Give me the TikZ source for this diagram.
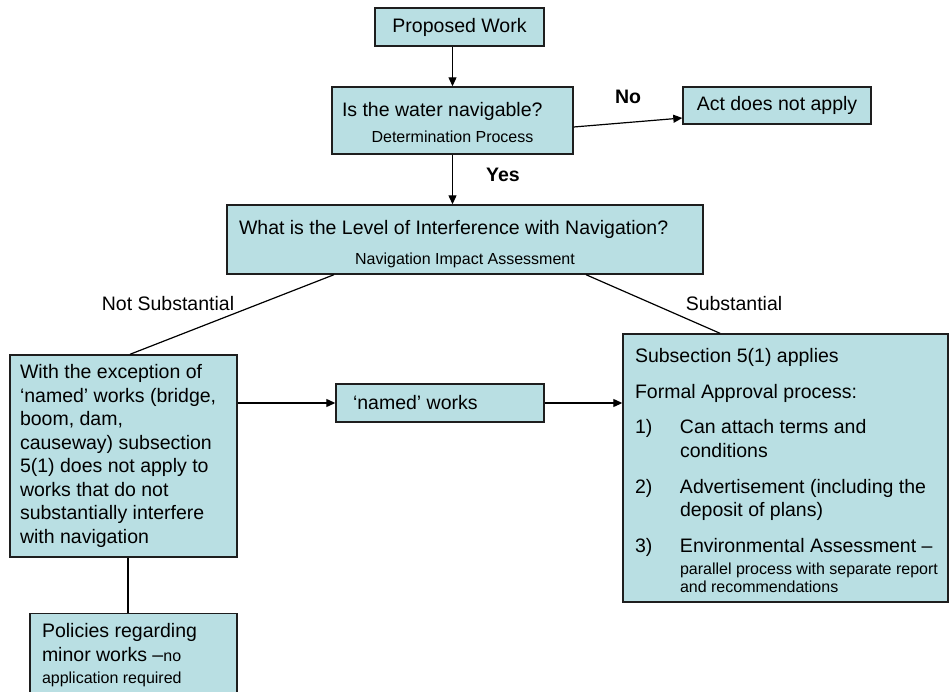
\documentclass[tikz,border=0pt]{standalone}
\usepackage{fontspec}
\setmainfont{Liberation Sans}
\usetikzlibrary{arrows.meta, positioning, calc}
\definecolor{boxteal}{RGB}{185, 223, 227}
\definecolor{edgegray}{RGB}{30, 30, 30}
\newcommand{\mainsize}{\fontsize{19.5}{23.5}\selectfont}
\newcommand{\minorsize}{\fontsize{16}{18}\selectfont}
\newcommand{\midline}[1]{\hspace*{\fill}\mbox{\minorsize #1}\hspace*{\fill}\null}

\begin{document}
\begin{tikzpicture}[
    x=1pt, y=-1pt,
    box/.style={draw=edgegray, line width=1.4pt, fill=boxteal, align=center, font=\mainsize, inner sep=0pt},
    textbox/.style={box, align=flush left},
    lbl/.style={font=\mainsize, inner sep=0pt},
    arr/.style={-{Triangle[length=9pt, width=8pt]}, line width=1.2pt},
    link/.style={line width=1.2pt}
]
    \useasboundingbox (0,0) rectangle (949,692);

    % Question chain
    \node[box, minimum width=169pt, minimum height=38pt] (prop) at (459.5,27) {Proposed Work};
    \node[textbox, text width=221pt, inner xsep=10pt, minimum height=67pt] (nav) at (452.5,120.5) {\rule{0pt}{18pt}Is the water navigable?\\[2pt]\midline{Determination Process}};
    \node[box, minimum width=188pt, minimum height=37pt] (act) at (777,105.5) {Act does not apply};
    \node[textbox, text width=452pt, inner xsep=12pt, minimum height=69pt] (level) at (465,239.5) {\rule{0pt}{23pt}What is the Level of Interference with Navigation?\\[6pt]\midline{Navigation Impact Assessment}};

    % Outcomes
    \node[textbox, text width=207pt, inner xsep=10pt, minimum height=202pt] (nosub) at (123.5,456) {With the exception of\\ ‘named’ works (bridge,\\ boom, dam,\\ causeway) subsection\\ 5(1) does not apply to\\ works that do not\\ substantially interfere\\ with navigation};
    \node[textbox, text width=174pt, inner xsep=17pt, minimum height=38pt] (named) at (440,403) {‘named’ works};
    \node[textbox, text width=301pt, inner xsep=12pt, minimum height=268pt] (sub) at (785.5,468) {\rule{0pt}{20pt}Subsection 5(1) applies\\[12pt]
        Formal Approval process:\\[12pt]
        \makebox[45pt][l]{1)}Can attach terms and\\
        \hspace*{45pt}conditions\\[12.5pt]
        \makebox[45pt][l]{2)}Advertisement (including the\\
        \hspace*{45pt}deposit of plans)\\[12.5pt]
        \makebox[45pt][l]{3)}Environmental Assessment –\\[-1.5pt]
        \hspace*{45pt}\mbox{\minorsize parallel process with separate report}\\[-5.5pt]
        \hspace*{45pt}\mbox{\minorsize and recommendations}};
    \node[textbox, text width=183pt, inner xsep=12pt, minimum height=83pt, anchor=north] (pol) at (133.5,613) {Policies regarding\\ minor works –{\minorsize no}\\[-1.5pt] \mbox{\minorsize application required}};

    % Labels
    \node[lbl, font=\mainsize\bfseries] (no) at (628,97) {No};
    \node[lbl, font=\mainsize\bfseries] (yes) at (503,175) {Yes};
    \node[lbl] (nslbl) at (168,304) {Not Substantial};
    \node[lbl] (slbl) at (734,304) {Substantial};

    % Connectors
    \draw[arr] (prop.south -| nav.north) -- (nav.north);
    \draw[arr] ([yshift=-6.5pt]nav.east) -- ([yshift=-12.5pt]act.west);
    \draw[arr] (nav.south) -- (nav.south |- level.north);
    \draw[link] ([xshift=-131pt]level.south) -- ([xshift=6.5pt]nosub.north);
    \draw[link] ([xshift=121pt]level.south) -- ([xshift=-65.5pt]sub.north);
    \draw[arr] (nosub.east |- named.west) -- (named.west);
    \draw[arr] (named.east) -- (named.east -| sub.west);
    \draw[link] ([xshift=4.5pt]nosub.south) -- ([xshift=4.5pt]nosub.south |- pol.north);
\end{tikzpicture}
\end{document}
